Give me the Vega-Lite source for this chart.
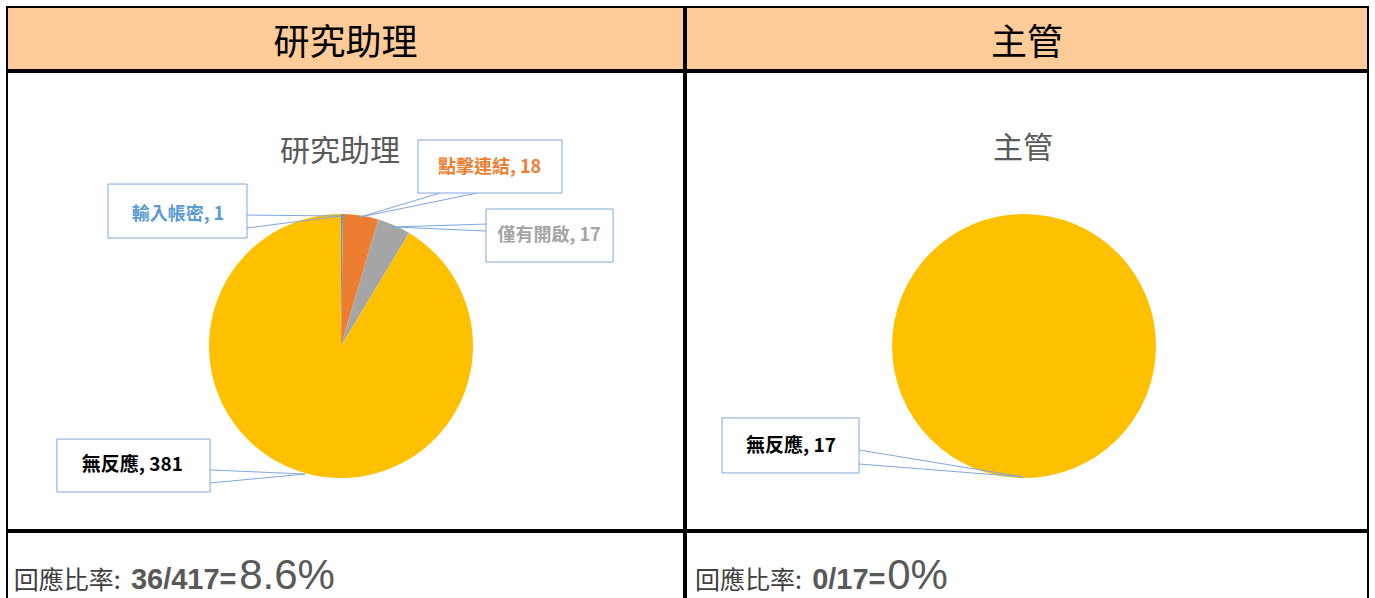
{
  "$schema": "https://vega.github.io/schema/vega-lite/v6.json",
  "padding": {"left": 6, "top": 6, "right": 0, "bottom": 0},
  "background": "white",
  "spacing": 0,
  "datasets": {
    "ra": [
      {"類別": "輸入帳密", "人數": 1, "順序": 1, "標籤": "輸入帳密, 1"},
      {"類別": "點擊連結", "人數": 18, "順序": 2, "標籤": "點擊連結, 18"},
      {"類別": "僅有開啟", "人數": 17, "順序": 3, "標籤": "僅有開啟, 17"},
      {"類別": "無反應", "人數": 381, "順序": 4, "標籤": "無反應, 381"}
    ],
    "mgr": [
      {"類別": "無反應", "人數": 17, "順序": 4, "標籤": "無反應, 17"}
    ]
  },
  "hconcat": [
    {
      "spacing": 0,
      "vconcat": [
        {
          "width": 677, "height": 63,
          "view": {"fill": "#FFCC99", "stroke": "black", "strokeWidth": 2},
          "data": {"values": [{"t": "研究助理"}]},
          "mark": {"type": "text", "fontSize": 36, "color": "black", "dy": 5, "font": "Noto Sans CJK TC", "fontWeight": "normal"},
          "encoding": {"text": {"field": "t"}}
        },
        {
          "width": 677, "height": 458,
          "data": {"name": "ra"},
          "layer": [
            {
              "mark": {"type": "arc", "radius": 132, "strokeWidth": 0},
              "encoding": {
                "x": {"datum": 0, "type": "quantitative", "scale": {"domain": [-253.0, 259.8], "nice": false, "zero": false}, "axis": null},
                "y": {"datum": 0, "type": "quantitative", "scale": {"domain": [-139.4, 207.6], "nice": false, "zero": false}, "axis": null},
                "theta": {"field": "人數", "type": "quantitative", "stack": true},
                "color": {"field": "類別", "type": "nominal", "legend": null,
                  "scale": {"domain": ["輸入帳密", "點擊連結", "僅有開啟", "無反應"], "range": ["#5B9BD5", "#ED7D31", "#A5A5A5", "#FFC000"]}},
                "order": {"field": "順序", "type": "quantitative"}
              }
            },
            {
              "data": {"values": [{"t": "研究助理"}]},
              "mark": {"type": "text", "fontSize": 30, "color": "#595959", "font": "Noto Sans CJK TC"},
              "encoding": {
                "x": {"datum": -0.8, "type": "quantitative"},
                "y": {"datum": 147, "type": "quantitative"},
                "text": {"field": "t"}
              }
            },
            {
              "transform": [{"filter": "datum['類別'] == '輸入帳密'"}],
              "layer": [
                {"mark": {"type": "rule", "color": "#7FA8DA", "strokeWidth": 1},
                 "encoding": {"x": {"datum": -71.2, "type": "quantitative"}, "y": {"datum": 99.2, "type": "quantitative"}, "x2": {"datum": 0}, "y2": {"datum": 98.5}}},
                {"mark": {"type": "rule", "color": "#7FA8DA", "strokeWidth": 1},
                 "encoding": {"x": {"datum": -71.2, "type": "quantitative"}, "y": {"datum": 89.4, "type": "quantitative"}, "x2": {"datum": 0}, "y2": {"datum": 98.5}}},
                {"mark": {"type": "rect", "fill": "white", "stroke": "#7FA8DA", "strokeWidth": 1},
                 "encoding": {"x": {"datum": -176.5, "type": "quantitative"}, "x2": {"datum": -71.2}, "y": {"datum": 81.8, "type": "quantitative"}, "y2": {"datum": 122.7}}},
                {"mark": {"type": "text", "fontSize": 18, "fontWeight": "bold", "color": "#5B9BD5", "font": "Noto Sans CJK TC"},
                 "encoding": {"x": {"datum": -123.5, "type": "quantitative"}, "y": {"datum": 99.6, "type": "quantitative"}, "text": {"field": "標籤"}}}
              ]
            },
            {
              "transform": [{"filter": "datum['類別'] == '點擊連結'"}],
              "layer": [
                {"mark": {"type": "rule", "color": "#7FA8DA", "strokeWidth": 1},
                 "encoding": {"x": {"datum": 75, "type": "quantitative"}, "y": {"datum": 115.9, "type": "quantitative"}, "x2": {"datum": 14.4}, "y2": {"datum": 97.7}}},
                {"mark": {"type": "rule", "color": "#7FA8DA", "strokeWidth": 1},
                 "encoding": {"x": {"datum": 103, "type": "quantitative"}, "y": {"datum": 115.9, "type": "quantitative"}, "x2": {"datum": 14.4}, "y2": {"datum": 97.7}}},
                {"mark": {"type": "rect", "fill": "white", "stroke": "#7FA8DA", "strokeWidth": 1},
                 "encoding": {"x": {"datum": 58.3, "type": "quantitative"}, "x2": {"datum": 167.4}, "y": {"datum": 115.9, "type": "quantitative"}, "y2": {"datum": 156.1}}},
                {"mark": {"type": "text", "fontSize": 18, "fontWeight": "bold", "color": "#ED7D31", "font": "Noto Sans CJK TC"},
                 "encoding": {"x": {"datum": 112.5, "type": "quantitative"}, "y": {"datum": 134.8, "type": "quantitative"}, "text": {"field": "標籤"}}}
              ]
            },
            {
              "transform": [{"filter": "datum['類別'] == '僅有開啟'"}],
              "layer": [
                {"mark": {"type": "rule", "color": "#7FA8DA", "strokeWidth": 1},
                 "encoding": {"x": {"datum": 109.8, "type": "quantitative"}, "y": {"datum": 92.4, "type": "quantitative"}, "x2": {"datum": 39.4}, "y2": {"datum": 90.2}}},
                {"mark": {"type": "rule", "color": "#7FA8DA", "strokeWidth": 1},
                 "encoding": {"x": {"datum": 109.8, "type": "quantitative"}, "y": {"datum": 87.1, "type": "quantitative"}, "x2": {"datum": 39.4}, "y2": {"datum": 90.2}}},
                {"mark": {"type": "rect", "fill": "white", "stroke": "#7FA8DA", "strokeWidth": 1},
                 "encoding": {"x": {"datum": 109.8, "type": "quantitative"}, "x2": {"datum": 206.1}, "y": {"datum": 63.6, "type": "quantitative"}, "y2": {"datum": 103.8}}},
                {"mark": {"type": "text", "fontSize": 18, "fontWeight": "bold", "color": "#A5A5A5", "font": "Noto Sans CJK TC"},
                 "encoding": {"x": {"datum": 157.6, "type": "quantitative"}, "y": {"datum": 83.0, "type": "quantitative"}, "text": {"field": "標籤"}}}
              ]
            },
            {
              "transform": [{"filter": "datum['類別'] == '無反應'"}],
              "layer": [
                {"mark": {"type": "rule", "color": "#7FA8DA", "strokeWidth": 1},
                 "encoding": {"x": {"datum": -99.2, "type": "quantitative"}, "y": {"datum": -93.9, "type": "quantitative"}, "x2": {"datum": -27.3}, "y2": {"datum": -97.0}}},
                {"mark": {"type": "rule", "color": "#7FA8DA", "strokeWidth": 1},
                 "encoding": {"x": {"datum": -99.2, "type": "quantitative"}, "y": {"datum": -103.8, "type": "quantitative"}, "x2": {"datum": -27.3}, "y2": {"datum": -97.0}}},
                {"mark": {"type": "rect", "fill": "white", "stroke": "#7FA8DA", "strokeWidth": 1},
                 "encoding": {"x": {"datum": -215.2, "type": "quantitative"}, "x2": {"datum": -99.2}, "y": {"datum": -110.6, "type": "quantitative"}, "y2": {"datum": -70.5}}},
                {"mark": {"type": "text", "fontSize": 19, "fontWeight": "bold", "color": "black", "font": "Noto Sans CJK TC"},
                 "encoding": {"x": {"datum": -158, "type": "quantitative"}, "y": {"datum": -89.8, "type": "quantitative"}, "text": {"field": "標籤"}}}
              ]
            }
          ]
        },
        {
          "width": 677, "height": 75,
          "layer": [
            {
              "data": {"values": [{"t": "回應比率:"}]},
              "mark": {"type": "text", "align": "left", "baseline": "alphabetic", "fontSize": 25, "color": "#404040", "font": "Noto Sans CJK TC"},
              "encoding": {
                "x": {"datum": 1.0, "type": "quantitative", "scale": {"domain": [0, 100], "nice": false, "zero": false}, "axis": null},
                "y": {"datum": 24, "type": "quantitative", "scale": {"domain": [0, 100], "nice": false, "zero": false}, "axis": null},
                "text": {"field": "t"}
              }
            },
            {
              "data": {"values": [{"t": "36/417="}]},
              "mark": {"type": "text", "align": "left", "baseline": "alphabetic", "fontSize": 29, "fontWeight": "bold", "color": "#595959", "font": "Liberation Sans"},
              "encoding": {
                "x": {"datum": 18.3, "type": "quantitative"},
                "y": {"datum": 24, "type": "quantitative"},
                "text": {"field": "t"}
              }
            },
            {
              "data": {"values": [{"t": "8.6%"}]},
              "mark": {"type": "text", "align": "left", "baseline": "alphabetic", "fontSize": 42, "color": "#595959", "font": "Liberation Sans"},
              "encoding": {
                "x": {"datum": 34.3, "type": "quantitative"},
                "y": {"datum": 24, "type": "quantitative"},
                "text": {"field": "t"}
              }
            }
          ]
        }
      ]
    },
    {
      "spacing": 0,
      "vconcat": [
        {
          "width": 682, "height": 63,
          "view": {"fill": "#FFCC99", "stroke": "black", "strokeWidth": 2},
          "data": {"values": [{"t": "主管"}]},
          "mark": {"type": "text", "fontSize": 36, "color": "black", "dy": 5, "font": "Noto Sans CJK TC", "fontWeight": "normal"},
          "encoding": {"text": {"field": "t"}}
        },
        {
          "width": 682, "height": 458,
          "data": {"name": "mgr"},
          "layer": [
            {
              "mark": {"type": "arc", "radius": 132, "strokeWidth": 0},
              "encoding": {
                "x": {"datum": 0, "type": "quantitative", "scale": {"domain": [-256.1, 260.6], "nice": false, "zero": false}, "axis": null},
                "y": {"datum": 0, "type": "quantitative", "scale": {"domain": [-139.4, 207.6], "nice": false, "zero": false}, "axis": null},
                "theta": {"field": "人數", "type": "quantitative", "stack": true},
                "color": {"field": "類別", "type": "nominal", "legend": null,
                  "scale": {"domain": ["輸入帳密", "點擊連結", "僅有開啟", "無反應"], "range": ["#5B9BD5", "#ED7D31", "#A5A5A5", "#FFC000"]}},
                "order": {"field": "順序", "type": "quantitative"}
              }
            },
            {
              "data": {"values": [{"t": "主管"}]},
              "mark": {"type": "text", "fontSize": 30, "color": "#595959", "font": "Noto Sans CJK TC"},
              "encoding": {
                "x": {"datum": -0.8, "type": "quantitative"},
                "y": {"datum": 149.6, "type": "quantitative"},
                "text": {"field": "t"}
              }
            },
            {
              "layer": [
                {"mark": {"type": "rule", "color": "#7FA8DA", "strokeWidth": 1},
                 "encoding": {"x": {"datum": -125, "type": "quantitative"}, "y": {"datum": -78.8, "type": "quantitative"}, "x2": {"datum": -0.8}, "y2": {"datum": -99.2}}},
                {"mark": {"type": "rule", "color": "#7FA8DA", "strokeWidth": 1},
                 "encoding": {"x": {"datum": -125, "type": "quantitative"}, "y": {"datum": -89.4, "type": "quantitative"}, "x2": {"datum": -0.8}, "y2": {"datum": -99.2}}},
                {"mark": {"type": "rect", "fill": "white", "stroke": "#7FA8DA", "strokeWidth": 1},
                 "encoding": {"x": {"datum": -228.8, "type": "quantitative"}, "x2": {"datum": -125}, "y": {"datum": -96.2, "type": "quantitative"}, "y2": {"datum": -54.5}}},
                {"mark": {"type": "text", "fontSize": 19, "fontWeight": "bold", "color": "black", "font": "Noto Sans CJK TC"},
                 "encoding": {"x": {"datum": -176.5, "type": "quantitative"}, "y": {"datum": -76.1, "type": "quantitative"}, "text": {"field": "標籤"}}}
              ]
            }
          ]
        },
        {
          "width": 682, "height": 75,
          "layer": [
            {
              "data": {"values": [{"t": "回應比率:"}]},
              "mark": {"type": "text", "align": "left", "baseline": "alphabetic", "fontSize": 25, "color": "#404040", "font": "Noto Sans CJK TC"},
              "encoding": {
                "x": {"datum": 1.32, "type": "quantitative", "scale": {"domain": [0, 100], "nice": false, "zero": false}, "axis": null},
                "y": {"datum": 24, "type": "quantitative", "scale": {"domain": [0, 100], "nice": false, "zero": false}, "axis": null},
                "text": {"field": "t"}
              }
            },
            {
              "data": {"values": [{"t": "0/17="}]},
              "mark": {"type": "text", "align": "left", "baseline": "alphabetic", "fontSize": 29, "fontWeight": "bold", "color": "#595959", "font": "Liberation Sans"},
              "encoding": {
                "x": {"datum": 18.5, "type": "quantitative"},
                "y": {"datum": 24, "type": "quantitative"},
                "text": {"field": "t"}
              }
            },
            {
              "data": {"values": [{"t": "0%"}]},
              "mark": {"type": "text", "align": "left", "baseline": "alphabetic", "fontSize": 42, "color": "#595959", "font": "Liberation Sans"},
              "encoding": {
                "x": {"datum": 29.5, "type": "quantitative"},
                "y": {"datum": 24, "type": "quantitative"},
                "text": {"field": "t"}
              }
            }
          ]
        }
      ]
    }
  ],
  "config": {
    "view": {"stroke": "black", "strokeWidth": 2},
    "axis": {"disable": true},
    "concat": {"spacing": 0}
  }
}
